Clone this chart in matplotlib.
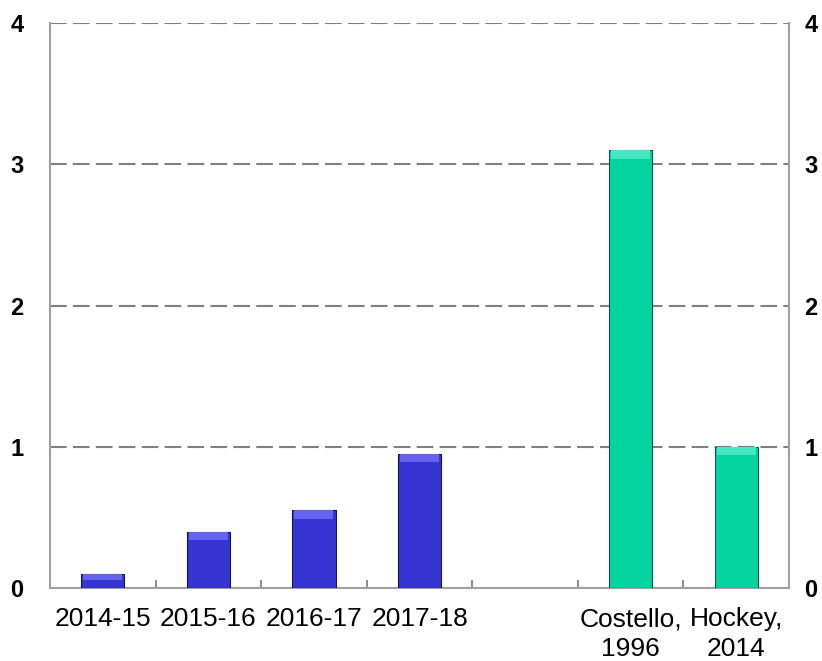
import numpy as np
import matplotlib.pyplot as plt

plt.rcParams['font.family'] = ['Liberation Sans', 'DejaVu Sans']

categories = ['2014-15', '2015-16', '2016-17', '2017-18', '', 'Costello,\n1996', 'Hockey,\n2014']
values = [0.1, 0.4, 0.55, 0.95, np.nan, 3.1, 1.0]
groups = ['recent', 'recent', 'recent', 'recent', 'none', 'study', 'study']

face = {'recent': '#3535D3', 'study': '#05D3A0'}
light = {'recent': '#6464EE', 'study': '#45E8C2'}
edge = {'recent': '#15155A', 'study': '#045A45'}

fig = plt.figure(figsize=(8.22, 6.61), dpi=100)
ax = fig.add_axes([0.0608, 0.1104, 0.8991, 0.8548])

x = np.arange(len(categories))
for xi, v, g in zip(x, values, groups):
    if np.isnan(v):
        continue
    ax.bar(xi, v, width=0.41, color=face[g], edgecolor=edge[g], linewidth=0.8, zorder=3)
    strip = min(0.06, v * 0.45)
    ax.bar(xi, strip, bottom=v - strip, width=0.37, color=light[g], linewidth=0, zorder=4)

ax.set_xlim(-0.5, len(categories) - 0.5)
ax.set_ylim(0, 4)

# tick marks at slot boundaries, labels at slot centres
ax.set_xticks(np.arange(0.5, len(categories) - 1, 1.0))
ax.set_xticklabels([])
ax.tick_params(axis='x', which='major', direction='in', length=6, width=1.5, color='#909090')
ax.set_xticks(x, minor=True)
ax.set_xticklabels(categories, minor=True, fontsize=19, linespacing=1.3)
ax.tick_params(axis='x', which='minor', length=0, pad=14)

ax.set_yticks([0, 1, 2, 3, 4])
ax.set_yticklabels(['0', '1', '2', '3', '4'], fontsize=17, fontweight='bold')
ax.tick_params(axis='y', length=0, pad=19)

ax.yaxis.grid(True, color='#808080', linestyle=(0, (8, 3)), linewidth=1.5, zorder=0)
ax.set_axisbelow(True)

for s in ['left', 'right', 'bottom']:
    ax.spines[s].set_color('#A0A0A0')
    ax.spines[s].set_linewidth(1.5)
ax.spines['top'].set_visible(False)

ax2 = ax.twinx()
ax2.set_ylim(0, 4)
ax2.set_yticks([0, 1, 2, 3, 4])
ax2.set_yticklabels(['0', '1', '2', '3', '4'], fontsize=17, fontweight='bold')
ax2.tick_params(axis='y', length=0, pad=11)
for s in ax2.spines.values():
    s.set_visible(False)

fig.savefig('out.png', dpi=100)
